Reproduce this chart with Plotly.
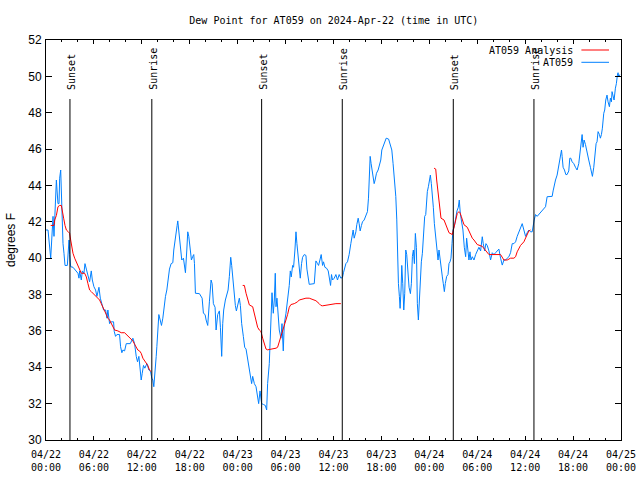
import plotly.graph_objects as go
from datetime import datetime, timedelta

BASE = datetime(2024, 4, 22)

# ---- AT059 observations (hours after 2024-04-22 00:00 UTC, degrees F)
obs_hours = [
    0.0, 0.25, 0.59, 0.75, 0.88, 1.0, 1.17, 1.3, 1.38, 1.5, 1.63, 1.71, 1.84, 1.92, 2.05, 2.13, 2.25, 2.38,
    2.67, 2.8, 2.88, 2.96, 3.09, 3.38, 3.59, 3.8, 4.0, 4.13, 4.21, 4.42, 4.55, 4.75, 4.88, 5.05, 5.25,
    5.46, 5.67, 5.8, 6.0, 6.21, 6.38, 6.63, 6.8, 6.96, 7.21, 7.46, 7.63, 7.75, 7.96, 8.17, 8.46, 8.55,
    8.71, 8.88, 9.21, 9.34, 9.5, 9.63, 9.84, 10.05, 10.55, 10.88, 11.09, 11.3, 11.46, 11.63, 11.8, 11.92,
    12.05, 12.21, 12.38, 12.63, 12.88, 13.09, 13.25, 13.38, 13.5, 13.63, 13.8, 13.88, 14.0, 14.13, 14.3,
    14.46, 14.63, 14.8, 14.96, 15.13, 15.3, 15.46, 15.67, 15.88, 16.0, 16.17, 16.3, 16.42, 16.5, 16.63,
    16.8, 17.0, 17.21, 17.34, 17.46, 17.63, 17.75, 17.88, 18.05, 18.21, 18.38, 18.5, 18.59, 18.71, 19.21,
    19.55, 19.71, 19.92, 20.05, 20.25, 20.46, 20.67, 20.8, 20.96, 21.17, 21.3, 21.5, 21.71, 21.84, 22.0,
    22.13, 22.25, 22.46, 22.63, 22.8, 22.96, 23.13, 23.25, 23.38, 23.5, 23.71, 23.84, 24.0, 24.21, 24.34,
    24.5, 24.71, 24.88, 25.05, 25.25, 25.46, 25.67, 25.75, 25.88, 26.09, 26.3, 26.5, 26.63, 26.8, 27.0,
    27.25, 27.46, 27.63, 27.75, 27.96, 28.09, 28.21, 28.3, 28.46, 28.59, 28.71, 28.8, 28.92, 29.05, 29.21,
    29.42, 29.55, 29.71, 29.84, 30.05, 30.25, 30.46, 30.59, 30.71, 30.88, 31.0, 31.17, 31.3, 31.42, 31.59,
    31.71, 31.84, 32.0, 32.13, 32.34, 32.55, 32.67, 32.84, 32.96, 33.59, 33.71, 33.8, 34.0, 34.13, 34.3,
    34.46, 34.63, 34.75, 34.92, 35.13, 35.34, 35.46, 35.63, 35.75, 35.88, 36.09, 36.3, 36.5, 36.71, 36.92,
    37.13, 37.25, 37.42, 37.55, 37.75, 37.96, 38.17, 38.3, 38.46, 38.59, 38.8, 38.92, 39.09, 39.21, 39.34,
    39.5, 39.63, 39.84, 40.05, 40.25, 40.38, 40.46, 40.59, 40.71, 40.88, 41.09, 41.21, 41.38, 41.59,
    41.71, 41.92, 42.05, 42.3, 42.6, 42.9, 43.1, 43.3, 43.46, 43.67, 43.8, 43.92, 44.0, 44.13, 44.25,
    44.34, 44.46, 44.55, 44.67, 44.8, 44.92, 45.05, 45.17, 45.34, 45.46, 45.63, 45.75, 45.88, 46.0, 46.13,
    46.25, 46.38, 46.5, 46.63, 46.75, 46.88, 47.0, 47.13, 47.25, 47.42, 47.55, 47.63, 47.75, 47.88, 48.0,
    48.13, 48.25, 48.38, 48.5, 48.63, 48.8, 48.96, 49.09, 49.21, 49.34, 49.5, 49.63, 49.75, 49.88, 50.0,
    50.17, 50.34, 50.46, 50.59, 50.71, 50.84, 50.96, 51.13, 51.3, 51.46, 51.63, 51.75, 51.88, 52.05,
    52.21, 52.38, 52.55, 52.67, 52.8, 52.96, 53.09, 53.21, 53.38, 53.59, 53.8, 54.0, 54.21, 54.42, 54.63,
    54.75, 54.92, 55.09, 55.25, 55.46, 55.67, 55.88, 56.09, 56.3, 56.5, 56.71, 56.92, 57.13, 57.34, 57.55,
    57.75, 57.96, 58.17, 58.38, 58.59, 58.8, 59.0, 59.21, 59.42, 59.63, 59.84, 60.05, 60.25, 60.46, 60.67,
    60.88, 61.13, 61.3, 61.5, 61.71, 61.92, 62.13, 62.34, 62.55, 62.75, 62.96, 63.38, 63.5, 63.63, 63.8,
    64.0, 64.21, 64.42, 64.55, 64.63, 64.75, 64.92, 65.09, 65.25, 65.46, 65.59, 65.71, 65.88, 66.09, 66.3,
    66.5, 66.71, 66.92, 67.05, 67.13, 67.25, 67.38, 67.55, 67.67, 67.8, 67.96, 68.17, 68.3, 68.42, 68.59,
    68.71, 68.88, 69.0, 69.13, 69.3, 69.42, 69.55, 69.67, 69.84, 69.96, 70.09, 70.25, 70.38, 70.55, 70.67,
    70.8, 70.88, 71.0, 71.13, 71.3, 71.42, 71.55, 71.63, 71.71, 71.85,
]
obs_values = [
    41.55, 41.55, 40.0, 41.1, 42.3, 41.2, 43.57, 44.3, 43.75, 43.0, 43.0, 44.4, 44.85, 43.6, 42.3, 40.8, 40.27, 39.6,
    39.6, 40.8, 41.0, 40.2, 39.53, 39.5, 39.4, 39.3, 39.17, 38.9, 39.3, 38.8, 39.3, 39.17, 39.7, 39.4, 39.1,
    38.7, 39.3, 38.8, 38.43, 38.25, 37.9, 38.4, 37.8, 37.5, 37.15, 37.15, 36.7, 37.15, 36.4, 36.5, 36.5, 35.96,
    35.7, 35.8, 35.8, 35.13, 34.8, 34.95, 34.9, 35.3, 35.3, 35.6, 35.3, 34.6, 34.3, 34.6, 33.85, 33.3,
    33.67, 34.1, 33.95, 34.2, 33.85, 33.76, 33.4, 33.3, 32.93, 33.5, 34.6, 35.13, 36.05, 36.9, 36.6,
    36.3, 36.7, 37.4, 37.9, 38.25, 38.9, 39.4, 39.7, 39.75, 40.45, 40.9, 41.4, 41.8, 42.05, 41.45,
    40.5, 39.9, 40.0, 39.6, 39.2, 40.45, 41.45, 41.2, 40.45, 39.9, 40.1, 40.2, 39.7, 38.07, 38.05,
    37.8, 36.97, 36.9, 36.6, 36.3, 37.6, 38.8, 38.6, 37.5, 37.3, 36.05, 36.9, 37.1, 36.2, 34.6,
    36.4, 37.15, 37.7, 38.0, 38.25, 39.0, 40.05, 39.6, 38.9, 38.07, 37.4, 37.1, 37.5, 37.8, 37.4,
    36.4, 35.7, 35.1, 35.0, 34.4, 33.85, 33.3, 33.1, 33.5, 33.1, 32.93, 32.4, 32.0, 32.7, 32.0,
    31.95, 31.9, 31.65, 33.1, 34.2, 36.05, 37.33, 38.1, 36.97, 37.7, 39.17, 37.33, 37.8, 37.15, 36.05,
    35.6, 36.4, 34.9, 36.4, 36.97, 37.6, 38.5, 39.3, 38.97, 39.6, 39.5, 40.45, 41.45, 40.8, 39.9,
    39.6, 38.9, 39.7, 40.05, 40.2, 40.15, 39.4, 38.97, 38.56, 38.6, 39.17, 39.85, 39.7, 39.6, 39.9,
    40.2, 39.6, 39.8, 39.5, 39.45, 39.3, 38.97, 38.5, 39.1, 38.8, 38.9, 39.1, 38.8, 39.1, 38.9,
    38.95, 39.2, 39.5, 39.7, 39.8, 40.2, 40.8, 41.2, 41.55, 41.1, 41.45, 41.85, 42.2, 41.9, 41.5,
    41.8, 42.0, 42.1, 42.4, 42.56, 43.3, 44.67, 45.6, 45.2, 44.76, 44.1, 44.3, 44.67, 44.85,
    45.13, 45.4, 45.95, 46.3, 46.6, 46.55, 46.3, 45.95, 45.2, 44.3, 43.4, 42.15, 40.45, 38.6, 37.9,
    37.24, 38.25, 39.6, 38.6, 37.15, 38.07, 40.45, 40.2, 38.9, 38.4, 38.05, 38.6, 40.1, 40.45, 39.7,
    41.36, 40.6, 37.5, 36.6, 37.9, 38.97, 39.8, 40.27, 41.0, 42.3, 42.4, 43.0, 43.66, 43.93, 44.3,
    44.57, 44.1, 43.57, 42.8, 41.9, 41.1, 40.45, 39.9, 40.45, 39.9, 39.6, 38.97, 38.6, 38.16, 38.6,
    39.0, 39.1, 39.7, 39.8, 40.0, 40.8, 41.55, 41.75, 42.28, 42.6, 42.8, 43.2, 42.45, 41.9,
    41.55, 40.6, 40.08, 41.1, 40.3, 39.9, 40.35, 39.9, 40.08, 39.9, 40.2, 40.4, 40.6, 40.4, 41.18,
    40.8, 40.4, 40.8, 40.7, 40.4, 39.9, 40.3, 40.2, 40.3, 40.4, 40.5, 40.0, 39.62, 39.9, 39.9,
    40.0, 40.08, 40.3, 40.8, 40.8, 40.9, 41.2, 41.45, 41.6, 41.9, 41.55, 41.2, 41.4, 41.55, 41.45,
    41.45, 42.1, 42.4, 42.3, 42.4, 42.56, 42.65, 42.75, 42.83, 43.38, 43.4, 43.4, 43.7, 44.0, 44.3,
    44.57, 45.1, 45.7, 45.95, 45.6, 45.0, 44.85, 44.6, 44.6, 44.8, 45.5, 45.5, 45.3, 45.2, 45.0,
    44.85, 45.2, 45.95, 46.5, 46.8, 46.1, 46.5, 46.25, 45.95, 45.7, 45.4, 45.0, 44.7, 44.5, 45.0,
    45.7, 46.3, 46.4, 46.96, 46.8, 46.6, 46.8, 47.15, 47.97, 48.15, 48.7, 48.97, 48.6, 48.33, 48.8,
    48.6, 49.16, 48.97, 48.7, 49.35, 49.6, 50.07, 50.2, 49.97, 50.1,
]

# ---- AT059 Analysis (three night-time segments)
ana1_hours = [0.59, 1.0, 1.09, 1.3, 1.5, 1.71, 1.92, 2.05, 2.21, 2.38, 2.55, 2.75, 2.96, 3.09, 3.25, 3.38,
              3.59, 3.8, 4.0, 4.21, 4.42, 4.84, 5.05, 5.25, 5.46, 5.67, 5.88, 6.09, 6.3, 6.5, 6.71, 6.92,
              7.13, 7.34, 7.55, 7.75, 7.96, 8.17, 8.38, 8.59, 9.0, 9.42, 9.84, 10.05, 10.25, 10.46, 10.67,
              10.88, 11.09, 11.3, 11.5, 11.71, 11.92, 12.13, 12.34, 12.55, 12.75, 12.96, 13.17]
ana1_values = [41.8, 41.8, 42.1, 42.35, 42.83, 42.9, 42.9, 42.65, 42.2, 41.8, 41.55, 41.47, 41.37, 41.0,
               40.6, 40.27, 40.0, 39.8, 39.6, 39.4, 39.17, 39.17, 38.97, 38.6, 38.25, 38.16, 38.07, 38.0,
               37.9, 37.8, 37.7, 37.5, 37.25, 37.1, 36.9, 36.7, 36.6, 36.4, 36.25, 36.05, 36.0, 35.9,
               35.9, 35.8, 35.7, 35.6, 35.5, 35.45, 35.27, 35.1, 34.95, 34.9, 34.77, 34.5, 34.35, 34.2,
               34.1, 33.85, 33.76]
ana2_hours = [24.63, 24.84, 25.05, 25.25, 25.46, 25.88, 26.09, 26.3, 26.5, 26.71, 26.92, 27.13, 27.34,
              27.55, 27.75, 28.38, 28.8, 29.0, 29.21, 29.42, 29.63, 29.84, 30.05, 30.25, 30.46, 30.67,
              31.09, 31.5, 31.71, 32.13, 32.55, 32.96, 33.38, 33.8, 34.21, 34.42, 34.63, 35.05, 35.46,
              35.88, 36.3, 36.92]
ana2_values = [38.5, 38.5, 38.07, 37.7, 37.43, 37.33, 36.97, 36.6, 36.2, 36.05, 35.96, 35.6, 35.24, 35.0,
               34.96, 35.0, 35.05, 35.1, 35.4, 35.7, 35.96, 36.25, 36.5, 36.9, 37.3, 37.45, 37.5, 37.6,
               37.7, 37.75, 37.8, 37.8, 37.72, 37.66, 37.5, 37.4, 37.38, 37.42, 37.45, 37.47, 37.5, 37.5]
ana3_hours = [48.59, 48.8, 48.92, 49.09, 49.21, 49.34, 49.46, 49.84, 50.05, 50.25, 50.46, 50.88, 51.0,
              51.3, 51.5, 51.71, 51.84, 52.0, 52.17, 52.34, 52.75, 52.96, 53.17, 53.38, 53.59, 53.8, 54.0,
              54.63, 54.84, 55.05, 55.25, 55.46, 56.92, 57.13, 57.34, 57.75, 58.17, 58.59, 58.8, 59.0,
              59.21, 59.42, 59.84, 60.05, 60.25, 60.46, 60.67]
ana3_values = [44.95, 44.9, 44.3, 43.6, 43.2, 42.65, 42.2, 42.1, 41.84, 41.66, 41.4, 41.3, 41.56, 42.2,
               42.46, 42.56, 42.5, 42.3, 42.0, 41.84, 41.7, 41.47, 41.3, 41.1, 41.0, 40.9, 40.75, 40.65,
               40.55, 40.4, 40.3, 40.2, 40.2, 40.08, 39.9, 39.9, 40.0, 40.0, 40.08, 40.35, 40.5, 40.7,
               40.9, 41.1, 41.3, 41.5, 41.55]

# ---- sun events (hours after 2024-04-22 00:00 UTC)
event_hours = [3.0, 13.25, 27.0, 37.1, 51.0, 61.1]
event_labels = ["Sunset", "Sunrise", "Sunset", "Sunrise", "Sunset", "Sunrise"]

# ---- x tick labels
tick_hours = [0, 6, 12, 18, 24, 30, 36, 42, 48, 54, 60, 66, 72]
tick_labels = ["04/22<br>00:00", "04/22<br>06:00", "04/22<br>12:00", "04/22<br>18:00",
               "04/23<br>00:00", "04/23<br>06:00", "04/23<br>12:00", "04/23<br>18:00",
               "04/24<br>00:00", "04/24<br>06:00", "04/24<br>12:00", "04/24<br>18:00",
               "04/25<br>00:00"]


def to_time(hours):
    return [BASE + timedelta(hours=h) for h in hours]


MONO = "DejaVu Sans Mono"
SANS = "Liberation Sans, Arial, sans-serif"
RED = "#ff0000"
BLUE = "#0080ff"

ana_x = to_time(ana1_hours) + [None] + to_time(ana2_hours) + [None] + to_time(ana3_hours)
ana_y = ana1_values + [None] + ana2_values + [None] + ana3_values

fig = go.Figure()
fig.add_trace(go.Scatter(x=to_time(obs_hours), y=obs_values, mode="lines",
                         line=dict(color=BLUE, width=1), name="AT059", showlegend=False))
fig.add_trace(go.Scatter(x=ana_x, y=ana_y, mode="lines", connectgaps=False,
                         line=dict(color=RED, width=1), name="AT059 Analysis", showlegend=False))

for t, lab in zip(to_time(event_hours), event_labels):
    fig.add_shape(type="line", xref="x", yref="paper", x0=t, x1=t, y0=0, y1=0.8525,
                  line=dict(color="black", width=1))
    fig.add_annotation(x=t, y=0.87, xref="x", yref="paper", text=lab, textangle=-90,
                       showarrow=False, xanchor="center", yanchor="bottom",
                       font=dict(family=MONO, size=10, color="black"), xshift=1)

# gnuplot-style legend (text right-aligned, sample line to the right)
legend_items = [("AT059 Analysis", RED), ("AT059", BLUE)]
for i, (name, col) in enumerate(legend_items):
    ypix = 50 + i * 12.3
    yp = (440 - ypix) / 400
    fig.add_annotation(x=(575 - 46.3) / 575, y=yp, xref="paper", yref="paper", text=name,
                       showarrow=False, xanchor="right", yanchor="middle",
                       font=dict(family=MONO, size=10, color="black"))
    fig.add_shape(type="line", xref="paper", yref="paper",
                  x0=(581.7 - 46.3) / 575, x1=(609.3 - 46.3) / 575, y0=yp, y1=yp,
                  line=dict(color=col, width=1))

fig.update_layout(
    width=640, height=480, autosize=False,
    margin=dict(l=46, r=19, t=40, b=40),
    paper_bgcolor="white", plot_bgcolor="white",
    title=dict(text="Dew Point for AT059 on 2024-Apr-22 (time in UTC)", x=(46.3 + 621.3) / 2 / 640,
               xanchor="center", y=1 - 20 / 480, yanchor="middle",
               font=dict(family=MONO, size=10, color="black")),
    showlegend=False,
)
fig.update_xaxes(
    type="date", range=[BASE, BASE + timedelta(hours=72)], automargin=False,
    tickmode="array", tickvals=to_time(tick_hours), ticktext=tick_labels,
    ticks="inside", ticklen=4, tickcolor="black", tickwidth=1,
    minor=dict(ticks="inside", ticklen=2, tickcolor="black", tickwidth=1,
               dtick=2 * 3600 * 1000, tick0=BASE, showgrid=False),
    showline=True, linecolor="black", linewidth=1, mirror="ticks",
    showgrid=False, zeroline=False, ticklabelstandoff=5,
    tickfont=dict(family=MONO, size=10, color="black"),
)
fig.update_yaxes(
    range=[30, 52], dtick=2, tick0=30, automargin=False,
    ticks="inside", ticklen=6, tickcolor="black", tickwidth=1,
    showline=True, linecolor="black", linewidth=1, mirror="ticks",
    showgrid=False, zeroline=False, ticklabelstandoff=1,
    tickfont=dict(family=SANS, size=12, color="black"),
    title=dict(text="degrees F", font=dict(family=SANS, size=12, color="black"), standoff=10),
)

fig.write_html("out.html", config={"displayModeBar": False},
               post_script="document.body.style.margin='0';document.body.style.overflow='hidden';")
